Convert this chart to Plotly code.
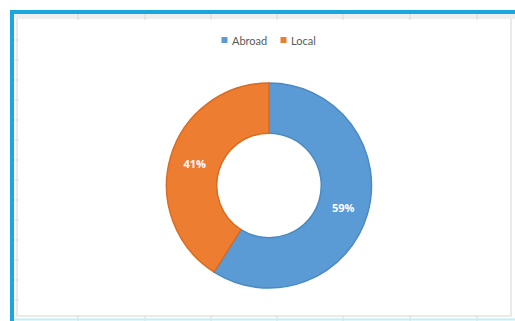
import plotly.graph_objects as go

# Share of respondents by location
categories = ["Abroad", "Local"]
values = [59, 41]
slice_colors = ["#5B9BD5", "#ED7D31"]
edge_colors = ["#4A89C2", "#D86C22"]

W, H = 515, 321


def px_x(x):
    return x / W


def px_y(y):
    return 1 - y / H


fig = go.Figure(
    go.Pie(
        labels=categories,
        values=values,
        hole=0.51,
        sort=False,
        direction="clockwise",
        rotation=0,
        marker=dict(colors=slice_colors, line=dict(color=edge_colors, width=1.5)),
        texttemplate="%{percent:.0%}",
        textposition="inside",
        insidetextorientation="horizontal",
        textfont=dict(family="Open Sans", size=11, color="white", weight="bold"),
        domain=dict(x=[px_x(166), px_x(372)], y=[px_y(288), px_y(83)]),
        hoverinfo="label+percent",
        showlegend=False,
    )
)

shapes = []
# spreadsheet-style frame around the chart area
shapes.append(dict(type="rect", xref="paper", yref="paper",
                   x0=px_x(17), x1=px_x(511), y0=px_y(316), y1=px_y(17),
                   line=dict(color="#E4E4E4", width=1.5), fillcolor="rgba(0,0,0,0)"))
shapes.append(dict(type="rect", xref="paper", yref="paper",
                   x0=px_x(14), x1=px_x(515), y0=px_y(19), y1=px_y(14),
                   line=dict(width=0), fillcolor="#EEEEEE"))
# faint grid ticks
for cx in [78, 145, 211, 277, 343, 410, 477]:
    shapes.append(dict(type="line", xref="paper", yref="paper",
                       x0=px_x(cx), x1=px_x(cx), y0=px_y(14), y1=px_y(20),
                       line=dict(color="#D8D8D8", width=1)))
    shapes.append(dict(type="line", xref="paper", yref="paper",
                       x0=px_x(cx), x1=px_x(cx), y0=px_y(316), y1=px_y(321),
                       line=dict(color="#D8D8D8", width=1)))
for ry in range(40, 316, 20):
    shapes.append(dict(type="line", xref="paper", yref="paper",
                       x0=px_x(14), x1=px_x(19), y0=px_y(ry), y1=px_y(ry),
                       line=dict(color="#DDDDDD", width=1)))
# highlighted selection border
shapes.append(dict(type="line", xref="paper", yref="paper",
                   x0=px_x(12), x1=px_x(12), y0=px_y(10), y1=0,
                   line=dict(color="#1AA7DC", width=4)))
shapes.append(dict(type="line", xref="paper", yref="paper",
                   x0=px_x(10), x1=1, y0=px_y(12), y1=px_y(12),
                   line=dict(color="#1AA7DC", width=4)))
shapes.append(dict(type="line", xref="paper", yref="paper",
                   x0=px_x(14), x1=1, y0=px_y(319.5), y1=px_y(319.5),
                   line=dict(color="#BFEFF8", width=2)))

# compact legend: small colour squares with category names
annotations = []
legend_x = [221.5, 280.5]
legend_y = 40
for name, color, lx in zip(categories, slice_colors, legend_x):
    shapes.append(dict(type="rect", xref="paper", yref="paper",
                       x0=px_x(lx), x1=px_x(lx + 6), y0=px_y(legend_y + 3), y1=px_y(legend_y - 3),
                       line=dict(width=0), fillcolor=color))
    annotations.append(dict(xref="paper", yref="paper", x=px_x(lx + 8.5), y=px_y(legend_y),
                            xanchor="left", yanchor="middle", showarrow=False, text=name,
                            font=dict(family="Lato", size=11, color="#595959")))

fig.update_layout(
    width=W,
    height=H,
    margin=dict(l=0, r=0, t=0, b=0),
    paper_bgcolor="white",
    plot_bgcolor="white",
    showlegend=False,
    shapes=shapes,
    annotations=annotations,
)

fig.write_html("out.html")
